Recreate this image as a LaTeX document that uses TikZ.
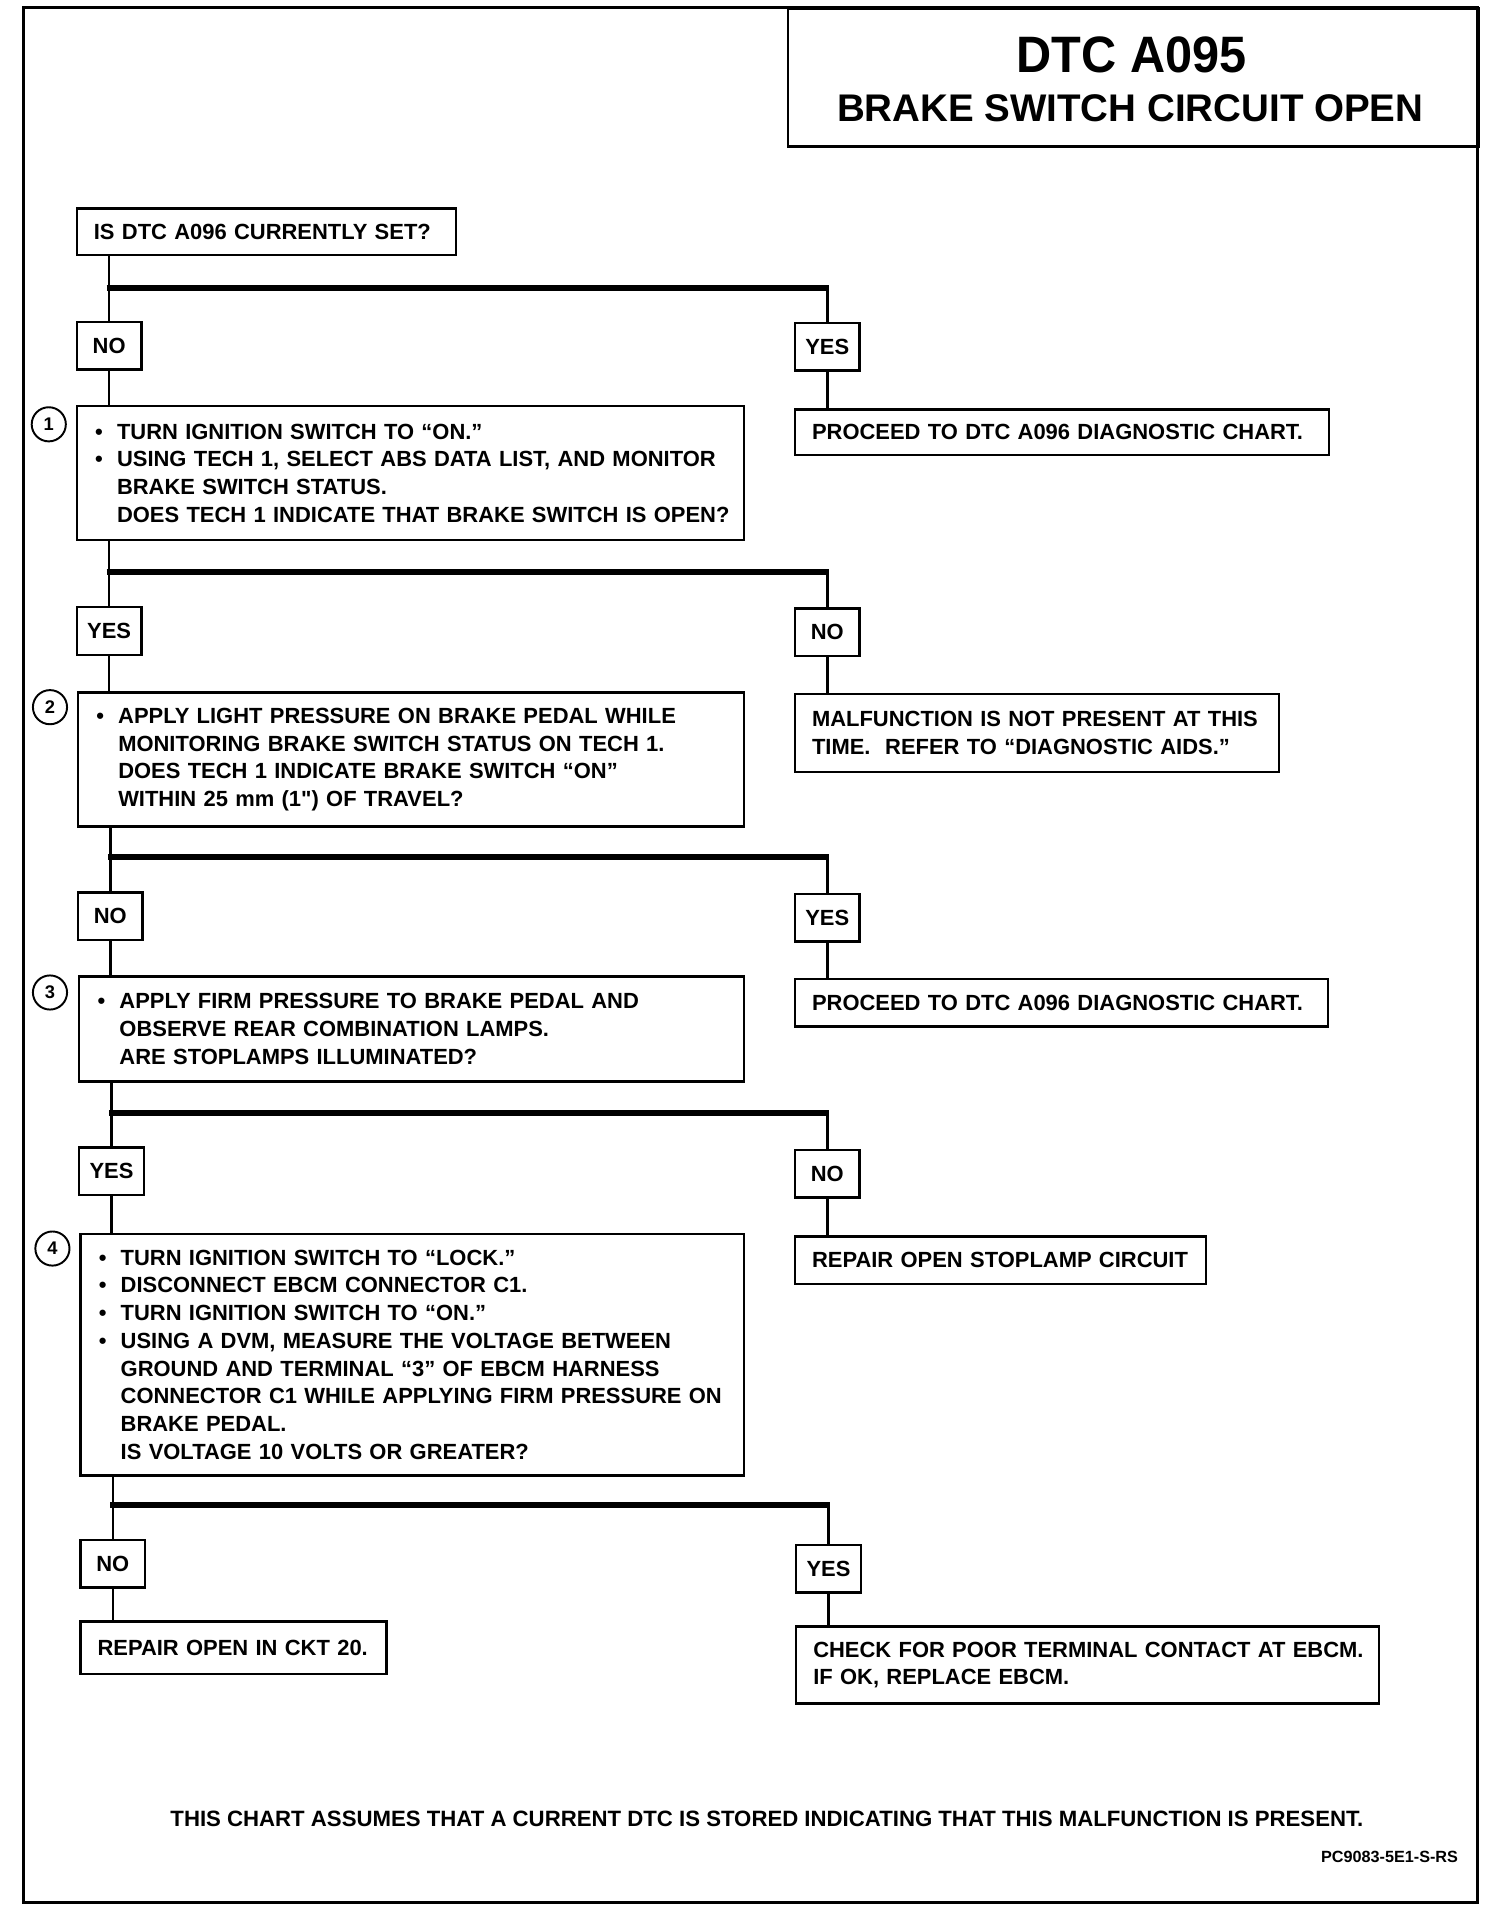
\documentclass[tikz,border=0pt]{standalone}
\usepackage{fontspec}
\setmainfont{Liberation Sans}
\newfontfamily\titlefont{Liberation Sans}[FakeStretch=0.95]
\newcommand\chartfont{\fontsize{18}{22.7}\selectfont\bfseries}
\newcommand\cbul[1]{\mbox{\makebox[18pt][l]{•}#1}}
\newcommand\cind[1]{\mbox{\hspace*{18pt}#1}}
\newcommand\inchmark{{\XeTeXglyph\XeTeXcharglyph"22\relax}}
\begin{document}
\begin{tikzpicture}[x=1pt,y=-1pt,
  box/.style={draw, line width=2pt, rectangle, anchor=north west, inner xsep=14pt, inner ysep=0pt, align=left, font=\chartfont},
  bbox/.style={box, inner xsep=15pt},
  lbl/.style={draw, line width=2pt, rectangle, anchor=north west, minimum width=53pt, minimum height=39pt, inner sep=0pt, font=\chartfont},
  conn/.style={line width=2pt},
  bar/.style={line width=5pt},
  num/.style={circle, draw, line width=1.6pt, minimum size=28pt, inner sep=0pt, font=\fontsize{15}{15}\selectfont\bfseries}]
\useasboundingbox (0,0) rectangle (1240,1576);
\fill[white] (0,0) rectangle (1240,1576);
\begin{scope}[scale=1.005, transform shape]
% outer frame and title box
\draw[line width=2.4pt] (19.4,6) rectangle (1211.5,1560);
\node[draw, line width=2pt, rectangle, anchor=north west, minimum width=566.1pt, minimum height=113pt, inner sep=0pt] (title) at (645.4,6) {};
\node[inner sep=0pt, font=\titlefont\fontsize{42}{42}\selectfont\bfseries] (t1) at (928,45.3) {DTC A095};
\node[inner sep=0pt, font=\fontsize{31.6}{31.6}\selectfont\bfseries] (t2) at (927,88.9) {BRAKE SWITCH CIRCUIT OPEN};

% row 0
\node[box, minimum width=311pt, minimum height=38pt, text width=283pt] (q0) at (62,170) {\mbox{IS DTC A096 CURRENTLY SET?}};
\node[lbl] (no1) at (62,263) {NO};
\node[lbl] (yes1) at (651,264) {YES};
\node[bbox, minimum width=547pt, minimum height=110pt, text width=517pt] (b1) at (62,332)
 {\cbul{TURN IGNITION SWITCH TO “ON.”}\\
  \cbul{USING TECH 1, SELECT ABS DATA LIST, AND MONITOR}\\
  \cind{BRAKE SWITCH STATUS.}\\
  \cind{DOES TECH 1 INDICATE THAT BRAKE SWITCH IS OPEN?}};
\node[box, minimum width=438pt, minimum height=37pt, text width=410pt] (p1) at (651,335) {\mbox{PROCEED TO DTC A096 DIAGNOSTIC CHART.}};
\node[num] (n1) at (40,348) {1};
\coordinate (j1) at (88.5,236);
\draw[conn] (q0.south -| no1.north) -- (no1.north);
\draw[bar] ([xshift=-1pt]j1) -- ([xshift=1pt]j1 -| yes1.north);
\draw[conn] (j1 -| yes1.north) -- (yes1.north);
\draw[conn] (no1.south) -- (no1.south |- b1.north);
\draw[conn] (yes1.south) -- (yes1.south |- p1.north);

% row 1
\node[lbl] (yes2) at (62,497) {YES};
\node[lbl] (no2) at (651,498) {NO};
\node[bbox, minimum width=546pt, minimum height=110pt, text width=516pt] (b2) at (63,567)
 {\cbul{APPLY LIGHT PRESSURE ON BRAKE PEDAL WHILE}\\
  \cind{MONITORING BRAKE SWITCH STATUS ON TECH 1.}\\
  \cind{DOES TECH 1 INDICATE BRAKE SWITCH “ON”}\\
  \cind{WITHIN 25 mm (1\inchmark) OF TRAVEL?}};
\node[box, minimum width=397pt, minimum height=64pt, text width=369pt] (m) at (651,568)
 {\mbox{MALFUNCTION IS NOT PRESENT AT THIS}\\\mbox{TIME.\ \ REFER TO “DIAGNOSTIC AIDS.”}};
\node[num] (n2) at (41,580) {2};
\coordinate (j2) at (88.5,469);
\draw[conn] (b1.south -| yes2.north) -- (yes2.north);
\draw[bar] ([xshift=-1pt]j2) -- ([xshift=1pt]j2 -| no2.north);
\draw[conn] (j2 -| no2.north) -- (no2.north);
\draw[conn] (yes2.south) -- (yes2.south |- b2.north);
\draw[conn] (no2.south) -- (no2.south |- m.north);

% row 2
\node[lbl] (no3) at (63,731) {NO};
\node[lbl] (yes3) at (651,732) {YES};
\node[bbox, minimum width=545pt, minimum height=86pt, text width=515pt] (b3) at (64,800)
 {\cbul{APPLY FIRM PRESSURE TO BRAKE PEDAL AND}\\
  \cind{OBSERVE REAR COMBINATION LAMPS.}\\
  \cind{ARE STOPLAMPS ILLUMINATED?}};
\node[box, minimum width=437pt, minimum height=39pt, text width=409pt] (p2) at (651,802) {\mbox{PROCEED TO DTC A096 DIAGNOSTIC CHART.}};
\node[num] (n3) at (41,814) {3};
\coordinate (j3) at (89.5,703);
\draw[conn] (b2.south -| no3.north) -- (no3.north);
\draw[bar] ([xshift=-1pt]j3) -- ([xshift=1pt]j3 -| yes3.north);
\draw[conn] (j3 -| yes3.north) -- (yes3.north);
\draw[conn] (no3.south) -- (no3.south |- b3.north);
\draw[conn] (yes3.south) -- (yes3.south |- p2.north);

% row 3
\node[lbl] (yes4) at (64,940) {YES};
\node[lbl] (no4) at (651,942) {NO};
\node[bbox, minimum width=544pt, minimum height=198pt, text width=514pt] (b4) at (65,1011)
 {\cbul{TURN IGNITION SWITCH TO “LOCK.”}\\
  \cbul{DISCONNECT EBCM CONNECTOR C1.}\\
  \cbul{TURN IGNITION SWITCH TO “ON.”}\\
  \cbul{USING A DVM, MEASURE THE VOLTAGE BETWEEN}\\
  \cind{GROUND AND TERMINAL “3” OF EBCM HARNESS}\\
  \cind{CONNECTOR C1 WHILE APPLYING FIRM PRESSURE ON}\\
  \cind{BRAKE PEDAL.}\\
  \cind{IS VOLTAGE 10 VOLTS OR GREATER?}};
\node[box, minimum width=337pt, minimum height=39pt, text width=309pt] (r1) at (651,1013) {\mbox{REPAIR OPEN STOPLAMP CIRCUIT}};
\node[num] (n4) at (43,1024) {4};
\coordinate (j4) at (90.5,913);
\draw[conn] (b3.south -| yes4.north) -- (yes4.north);
\draw[bar] ([xshift=-1pt]j4) -- ([xshift=1pt]j4 -| no4.north);
\draw[conn] (j4 -| no4.north) -- (no4.north);
\draw[conn] (yes4.south) -- (yes4.south |- b4.north);
\draw[conn] (no4.south) -- (no4.south |- r1.north);

% row 4
\node[lbl] (no5) at (65,1262) {NO};
\node[lbl] (yes5) at (652,1266) {YES};
\node[box, minimum width=251pt, minimum height=43pt, text width=223pt] (r2) at (65,1329) {\mbox{REPAIR OPEN IN CKT 20.}};
\node[box, minimum width=478pt, minimum height=63pt, text width=450pt] (c) at (652,1333)
 {\mbox{CHECK FOR POOR TERMINAL CONTACT AT EBCM.}\\\mbox{IF OK, REPLACE EBCM.}};
\coordinate (j5) at (91.5,1234);
\draw[conn] (b4.south -| no5.north) -- (no5.north);
\draw[bar] ([xshift=-1pt]j5) -- ([xshift=1pt]j5 -| yes5.north);
\draw[conn] (j5 -| yes5.north) -- (yes5.north);
\draw[conn] (no5.south) -- (no5.south |- r2.north);
\draw[conn] (yes5.south) -- (yes5.south |- c.north);

% footer
\node[inner sep=0pt, font=\fontsize{18.2}{22}\selectfont\bfseries] (foot) at (629,1492) {THIS CHART ASSUMES THAT A CURRENT DTC IS STORED INDICATING THAT THIS MALFUNCTION IS PRESENT.};
\node[inner sep=0pt, anchor=east, font=\fontsize{13.3}{15}\selectfont\bfseries] (code) at (1196,1523) {PC9083-5E1-S-RS};
\end{scope}
\end{tikzpicture}
\end{document}
